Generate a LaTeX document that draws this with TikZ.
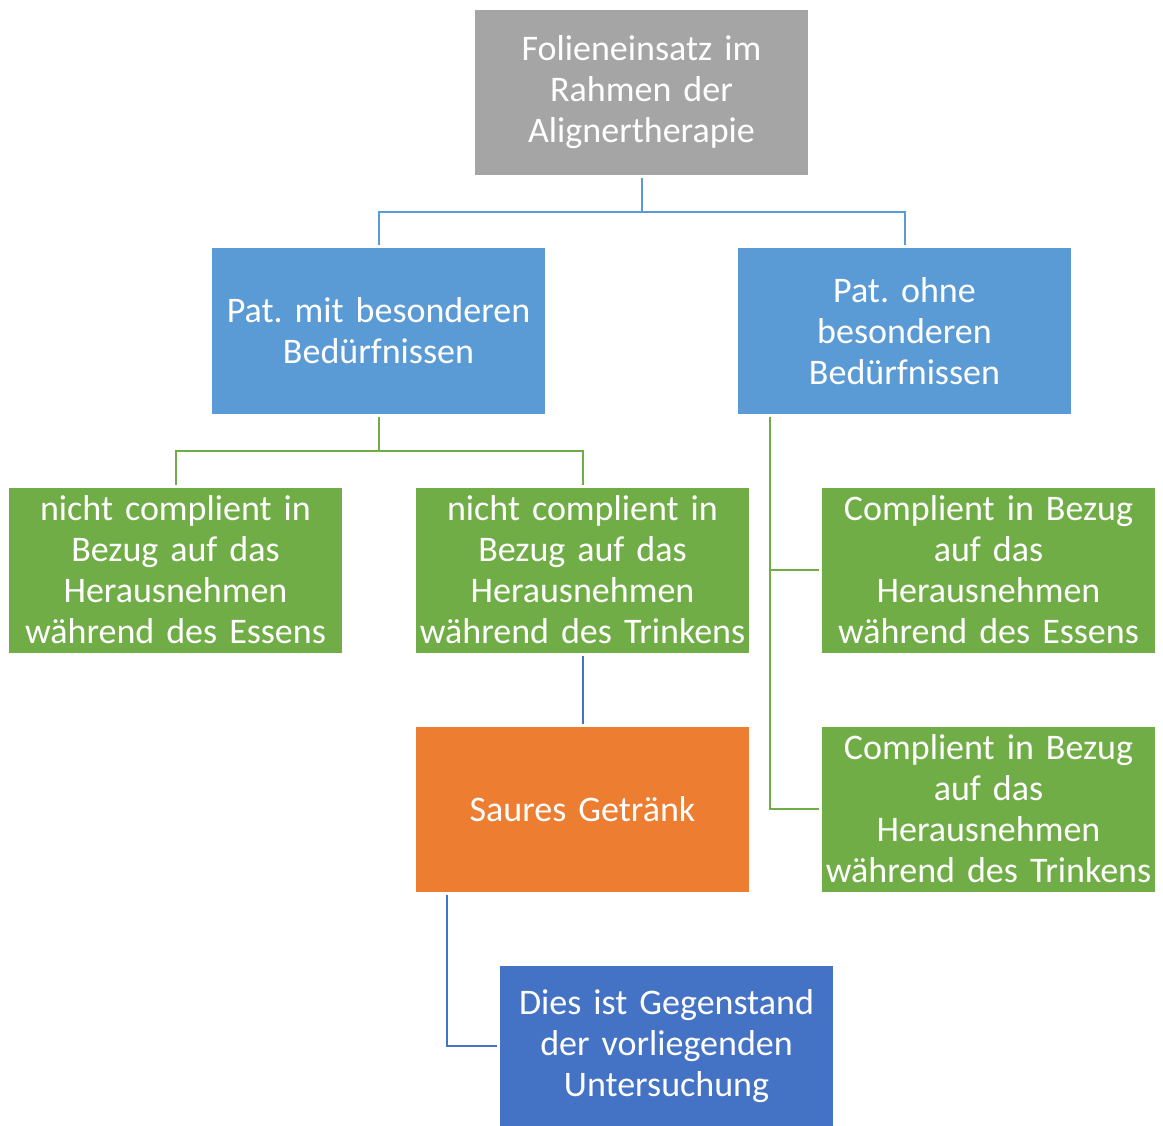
\documentclass[tikz,border=0pt]{standalone}
\usepackage{fontspec}
\setmainfont{Carlito}
\frenchspacing
\definecolor{grau}{HTML}{A5A5A5}
\definecolor{hellblau}{HTML}{5B9BD5}
\definecolor{gruen}{HTML}{70AD47}
\definecolor{orange}{HTML}{ED7D31}
\definecolor{dunkelblau}{HTML}{4472C4}
\tikzset{
  kasten/.style={rectangle, minimum width=333pt, minimum height=165pt, text width=333pt,
    align=center, inner sep=0pt, outer sep=3pt, text=white,
    font=\fontsize{36}{41}\selectfont},
  linie/.style={line width=2pt}
}
\begin{document}
\begin{tikzpicture}[x=1pt,y=-1pt]
          \useasboundingbox (0,0) rectangle (1163,1126);
          \node[kasten, fill=grau] (top) at (641.5,92.5){Folieneinsatz im\\Rahmen der\\Alignertherapie};
          \node[kasten, fill=hellblau] (pl) at (378.5,331){Pat. mit besonderen\\Bedürfnissen};
          \node[kasten, fill=hellblau] (pr) at (904.5,331){Pat. ohne\\besonderen\\Bedürfnissen};
          \node[kasten, fill=gruen] (ga) at (175.5,570){nicht complient in\\Bezug auf das\\Herausnehmen\\während des Essens};
          \node[kasten, fill=gruen] (gb) at (582.5,570){nicht complient in\\Bezug auf das\\Herausnehmen\\während des Trinkens};
          \node[kasten, fill=gruen] (gc) at (988.5,570){Complient in Bezug\\auf das\\Herausnehmen\\während des Essens};
          \node[kasten, fill=gruen] (gd) at (988.5,809){Complient in Bezug\\auf das\\Herausnehmen\\während des Trinkens};
          \node[kasten, fill=orange] (or) at (582.5,809){Saures Getränk};
          \node[kasten, fill=dunkelblau, minimum height=160pt] (db) at (666.5,1046){Dies ist Gegenstand\\der vorliegenden\\Untersuchung};
          \coordinate (j0) at (641.5,212);
          \coordinate (j1) at (378.5,451);
          \draw[linie, hellblau](top.south) -- (j0);
          \draw[linie, hellblau](j0) -| (pl.north);
          \draw[linie, hellblau](j0) -| (pr.north);
          \draw[linie, gruen](pl.south) -- (j1);
          \draw[linie, gruen](j1) -| (ga.north);
          \draw[linie, gruen](j1) -| (gb.north);
          \draw[linie, gruen](pr.south -| 770,0) |- (gc.west);
          \draw[linie, gruen](pr.south -| 770,0) |- (gd.west);
          \draw[linie, dunkelblau](gb.south) -- (or.north);
          \draw[linie, dunkelblau](or.south -| 447,0) |- (db.west);
        \end{tikzpicture}
\end{document}
